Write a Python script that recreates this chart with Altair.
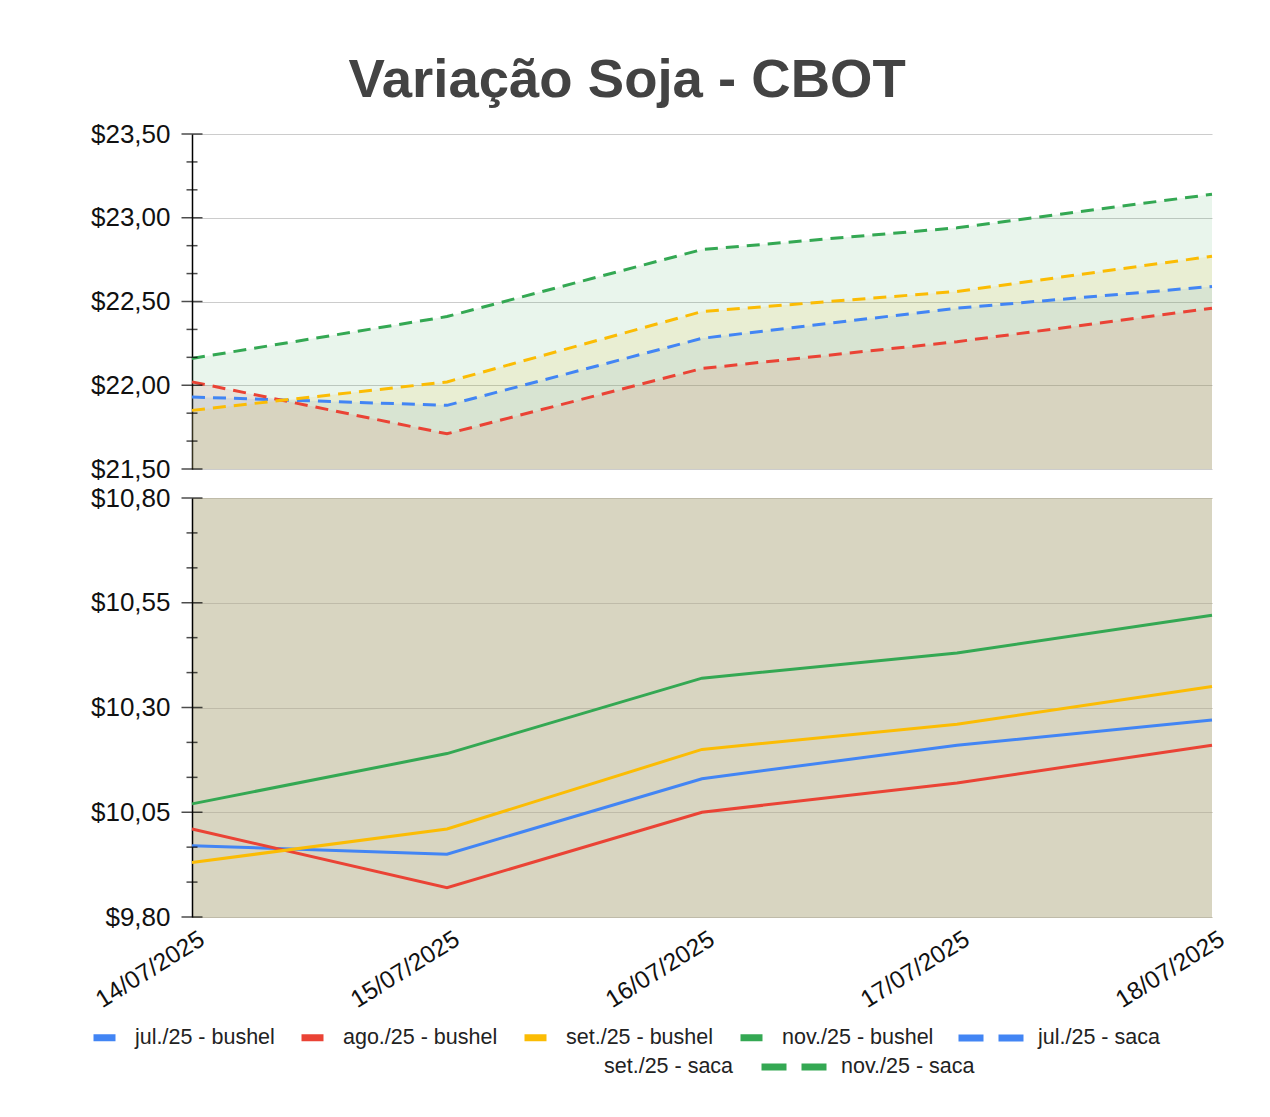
import altair as alt
import pandas as pd

dates = ["14/07/2025", "15/07/2025", "16/07/2025", "17/07/2025", "18/07/2025"]

bushel_names = ["jul./25 - bushel", "ago./25 - bushel", "set./25 - bushel", "nov./25 - bushel"]
saca_names = ["jul./25 - saca", "ago./25 - saca", "set./25 - saca", "nov./25 - saca"]

jul_bushel = [9.97, 9.95, 10.13, 10.21, 10.27]
ago_bushel = [10.01, 9.87, 10.05, 10.12, 10.21]
set_bushel = [9.93, 10.01, 10.20, 10.26, 10.35]
nov_bushel = [10.07, 10.19, 10.37, 10.43, 10.52]

jul_saca = [21.93, 21.88, 22.28, 22.46, 22.59]
ago_saca = [22.02, 21.71, 22.10, 22.26, 22.46]
set_saca = [21.85, 22.02, 22.44, 22.56, 22.77]
nov_saca = [22.16, 22.41, 22.81, 22.94, 23.14]

series_colors = ["#4285F4", "#EA4335", "#FBBC04", "#34A853"]

top_major = [21.5, 22.0, 22.5, 23.0, 23.5]
top_minor = [21.6667, 21.8333, 22.1667, 22.3333, 22.6667, 22.8333, 23.1667, 23.3333]
bot_major = [9.80, 10.05, 10.30, 10.55, 10.80]
bot_minor = [9.8833, 9.9667, 10.1333, 10.2167, 10.3833, 10.4667, 10.6333, 10.7167]


def long_df(names, arrays):
    rows = []
    for n, arr in zip(names, arrays):
        for d, v in zip(dates, arr):
            rows.append({"date": d, "series": n, "s1": n, "s2": n, "s3": n, "value": v})
    return pd.DataFrame(rows)


bushel_df = long_df(bushel_names, [jul_bushel, ago_bushel, set_bushel, nov_bushel])
saca_df = long_df(saca_names, [jul_saca, ago_saca, set_saca, nov_saca])

all_names = bushel_names + saca_names
FONT = "Liberation Sans"
money = '"$" + replace(format(datum.value, ".2f"), ".", ",")'

leg_common = dict(
    title=None, orient="none", direction="horizontal", symbolType="stroke",
    symbolStrokeWidth=7, labelFontSize=21.5, labelFont=FONT, labelColor="#222222",
    labelLimit=0, rowPadding=0,
)


def saca_legend(i, x, y):
    return alt.Legend(values=[saca_names[i]], legendX=x, legendY=y, symbolSize=65 * 65,
                      labelOffset=11, symbolDash=[25, 15], symbolStrokeColor=series_colors[i],
                      symbolOpacity=1, **leg_common)


leg_bushel = alt.Legend(values=bushel_names, legendX=-102, legendY=889, symbolSize=22 * 22,
                        labelOffset=16, columnPadding=12, **leg_common)

color_enc = alt.Color("series:N", scale=alt.Scale(domain=all_names, range=series_colors * 2),
                      legend=leg_bushel)
# each legend channel gets its own domain order so Vega-Lite keeps the legends apart
op_enc = alt.Opacity("s1:N", scale=alt.Scale(domain=saca_names + bushel_names, range=[1] * 8),
                     legend=saca_legend(0, 763, 868))

xpt = alt.Scale(type="point", padding=0)
top_y = alt.Scale(domain=[21.5, 23.5], zero=False, nice=False)
bot_y = alt.Scale(domain=[9.8, 10.8], zero=False, nice=False)


def yaxis(values, grid_color):
    return alt.Axis(
        values=values, labelExpr=money, grid=True, gridColor=grid_color, gridWidth=1.2,
        ticks=False, domain=True, domainColor="#000000", domainWidth=1.5,
        labelFontSize=26, labelFont=FONT, labelColor="#111111", labelPadding=22, title=None,
    )


top_axis = yaxis(top_major, "#cccccc")
bot_axis = yaxis(bot_major, "#bfbba9")

top_area = alt.Chart(saca_df).mark_area(fillOpacity=0.11, interpolate="linear").encode(
    x=alt.X("date:O", sort=dates, scale=xpt, axis=None),
    y=alt.Y("value:Q", scale=top_y, stack=None, axis=top_axis),
    fill=alt.Fill("series:N", scale=alt.Scale(domain=saca_names, range=series_colors),
                  legend=saca_legend(3, 566, 897)),
    strokeDash=alt.StrokeDash("s2:N",
                              scale=alt.Scale(domain=saca_names[::-1], range=[[25, 15]] * 4),
                              legend=saca_legend(1, 84, 897)),
    strokeWidth=alt.StrokeWidth("s3:N",
                                scale=alt.Scale(domain=[saca_names[1], saca_names[0],
                                                        saca_names[3], saca_names[2]],
                                                range=[7, 7]),
                                legend=saca_legend(2, 329, 897)),
)
top_line = alt.Chart(saca_df).mark_line(strokeWidth=3, strokeDash=[13, 8]).encode(
    x=alt.X("date:O", sort=dates, scale=xpt, axis=None),
    y=alt.Y("value:Q", scale=top_y, axis=top_axis),
    color=color_enc,
    opacity=op_enc,
)


def tick_layer(values, scale, axis, size):
    df = pd.DataFrame({"value": values})
    return alt.Chart(df).mark_tick(orient="horizontal", thickness=1.5, color="#000000").encode(
        y=alt.Y("value:Q", scale=scale, axis=axis),
        x=alt.value(0),
        size=alt.value(size),
    )


top = alt.layer(
    top_area, top_line,
    tick_layer(top_major, top_y, top_axis, 21), tick_layer(top_minor, top_y, top_axis, 11),
).properties(width=1020, height=335)

xaxis = alt.Axis(
    labelAngle=-32, labelAlign="right", labelBaseline="middle", labelFontSize=24.5,
    labelFont=FONT, labelColor="#111111", labelPadding=20, labelOffset=10, domain=False,
    ticks=False, grid=False, title=None)

bot_line = alt.Chart(bushel_df).mark_line(strokeWidth=3).encode(
    x=alt.X("date:O", sort=dates, scale=xpt, axis=xaxis),
    y=alt.Y("value:Q", scale=bot_y, axis=bot_axis),
    color=color_enc,
    opacity=op_enc,
)

bottom = alt.layer(
    bot_line, tick_layer(bot_major, bot_y, bot_axis, 21), tick_layer(bot_minor, bot_y, bot_axis, 11),
).properties(width=1020, height=419, view=alt.ViewBackground(fill="#d8d5c1", strokeWidth=0))

chart = alt.vconcat(
    top, bottom, spacing=3,
    title=alt.TitleParams(
        "Variação Soja - CBOT", fontSize=54.5, fontWeight="bold", font=FONT,
        color="#434343", anchor="middle", offset=13, dx=-32,
    ),
).resolve_scale(x="independent", y="independent").properties(
    padding={"left": 82, "top": 44, "right": 2, "bottom": 2}
).configure_view(strokeWidth=0)

chart.save("out.html", embed_options={"renderer": "svg", "actions": False})
